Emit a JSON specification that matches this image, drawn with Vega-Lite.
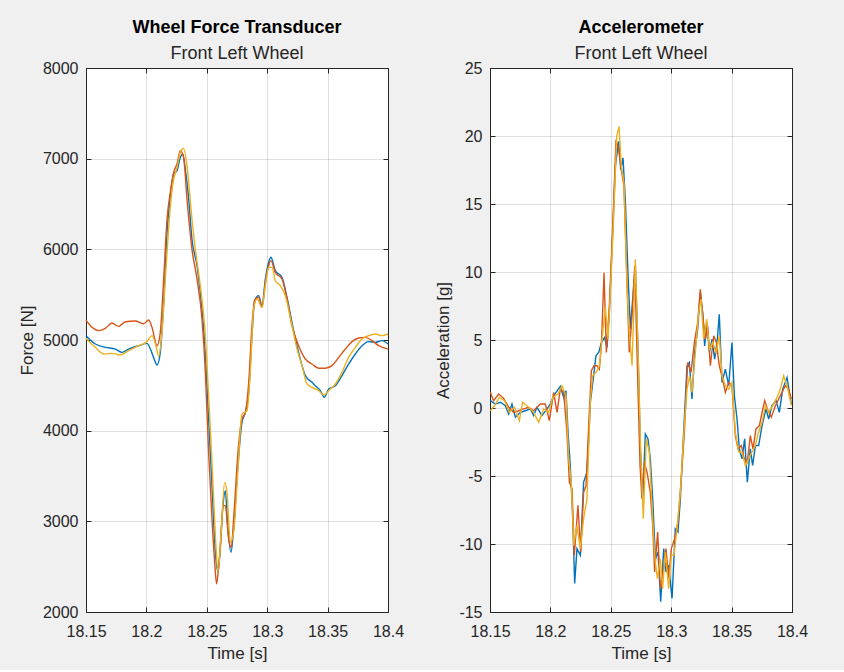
{
  "$schema": "https://vega.github.io/schema/vega-lite/v6.json",
  "background": "#f0f0f0",
  "padding": {"left": 17, "top": 18, "right": 40, "bottom": 8},
  "spacing": 102,
  "bounds": "flush",
  "config": {
    "font": "Liberation Sans",
    "locale": {"number": {"decimal": ".", "thousands": "", "grouping": [3], "currency": ["$", ""], "minus": "-"}},
    "view": {"stroke": "#262626", "strokeWidth": 1, "fill": "white"},
    "axis": {
      "labelFont": "Liberation Sans", "labelFontSize": 16, "labelColor": "#262626",
      "titleFont": "Liberation Sans", "titleFontSize": 17, "titleFontWeight": "normal", "titleColor": "#262626",
      "domainColor": "#262626", "tickColor": "#262626", "tickSize": -5, "tickWidth": 1,
      "gridColor": "#262626", "gridOpacity": 0.15, "labelFlush": false, "labelOverlap": false, "titlePadding": 6
    },
    "axisX": {"labelPadding": 16},
    "axisY": {"labelPadding": 13},
    "title": {"font": "Liberation Sans", "fontSize": 18, "fontWeight": "bold", "color": "#000000", "subtitleFont": "Liberation Sans", "subtitleFontSize": 18, "subtitleColor": "#262626", "subtitlePadding": 8, "offset": -2.5, "anchor": "middle"}
  },
  "datasets": {
    "force": [
      {"s":"1","t":18.15,"v":5048},{"s":"1","t":18.1577,"v":4956},{"s":"1","t":18.166,"v":4919},{"s":"1","t":18.1743,"v":4900},{"s":"1","t":18.1798,"v":4864},{"s":"1","t":18.1853,"v":4900},{"s":"1","t":18.1936,"v":4937},{"s":"1","t":18.2005,"v":4963},{"s":"1","t":18.2033,"v":4900},{"s":"1","t":18.2066,"v":4783},{"s":"1","t":18.2088,"v":4724},{"s":"1","t":18.2115,"v":4864},{"s":"1","t":18.2143,"v":5415},{"s":"1","t":18.2171,"v":6187},{"s":"1","t":18.2198,"v":6592},{"s":"1","t":18.2226,"v":6831},{"s":"1","t":18.2253,"v":6867},{"s":"1","t":18.2281,"v":7015},{"s":"1","t":18.23,"v":7051},{"s":"1","t":18.2322,"v":6886},{"s":"1","t":18.235,"v":6555},{"s":"1","t":18.2377,"v":6114},{"s":"1","t":18.2419,"v":5820},{"s":"1","t":18.246,"v":5342},{"s":"1","t":18.2488,"v":4864},{"s":"1","t":18.2515,"v":4129},{"s":"1","t":18.2543,"v":3394},{"s":"1","t":18.2571,"v":2658},{"s":"1","t":18.2593,"v":2438},{"s":"1","t":18.2612,"v":2732},{"s":"1","t":18.2634,"v":3173},{"s":"1","t":18.2653,"v":3338},{"s":"1","t":18.2675,"v":2916},{"s":"1","t":18.27,"v":2658},{"s":"1","t":18.2722,"v":2916},{"s":"1","t":18.2758,"v":3614},{"s":"1","t":18.2791,"v":4092},{"s":"1","t":18.2819,"v":4202},{"s":"1","t":18.2847,"v":4423},{"s":"1","t":18.2874,"v":5048},{"s":"1","t":18.2896,"v":5434},{"s":"1","t":18.2929,"v":5489},{"s":"1","t":18.2957,"v":5379},{"s":"1","t":18.2985,"v":5673},{"s":"1","t":18.3012,"v":5857},{"s":"1","t":18.3031,"v":5912},{"s":"1","t":18.3067,"v":5765},{"s":"1","t":18.3122,"v":5691},{"s":"1","t":18.3164,"v":5470},{"s":"1","t":18.3219,"v":5103},{"s":"1","t":18.326,"v":4864},{"s":"1","t":18.3316,"v":4607},{"s":"1","t":18.3371,"v":4533},{"s":"1","t":18.3398,"v":4496},{"s":"1","t":18.344,"v":4441},{"s":"1","t":18.3473,"v":4368},{"s":"1","t":18.3509,"v":4460},{"s":"1","t":18.3564,"v":4496},{"s":"1","t":18.3619,"v":4607},{"s":"1","t":18.3674,"v":4735},{"s":"1","t":18.373,"v":4846},{"s":"1","t":18.3785,"v":4937},{"s":"1","t":18.384,"v":4982},{"s":"1","t":18.3895,"v":4974},{"s":"1","t":18.395,"v":4993},{"s":"1","t":18.4,"v":4956},
      {"s":"2","t":18.15,"v":5220},{"s":"2","t":18.155,"v":5140},{"s":"2","t":18.1605,"v":5103},{"s":"2","t":18.166,"v":5129},{"s":"2","t":18.1715,"v":5187},{"s":"2","t":18.177,"v":5150},{"s":"2","t":18.1826,"v":5202},{"s":"2","t":18.1908,"v":5210},{"s":"2","t":18.1977,"v":5180},{"s":"2","t":18.2019,"v":5220},{"s":"2","t":18.2046,"v":5140},{"s":"2","t":18.2088,"v":4937},{"s":"2","t":18.2115,"v":5085},{"s":"2","t":18.2143,"v":5673},{"s":"2","t":18.2171,"v":6334},{"s":"2","t":18.2198,"v":6628},{"s":"2","t":18.2226,"v":6850},{"s":"2","t":18.2253,"v":6941},{"s":"2","t":18.2281,"v":7088},{"s":"2","t":18.2308,"v":7015},{"s":"2","t":18.2336,"v":6555},{"s":"2","t":18.2377,"v":6003},{"s":"2","t":18.2419,"v":5673},{"s":"2","t":18.246,"v":5232},{"s":"2","t":18.2488,"v":4643},{"s":"2","t":18.2515,"v":3761},{"s":"2","t":18.2543,"v":3026},{"s":"2","t":18.2565,"v":2550},{"s":"2","t":18.2581,"v":2310},{"s":"2","t":18.2598,"v":2500},{"s":"2","t":18.2612,"v":2700},{"s":"2","t":18.2634,"v":3173},{"s":"2","t":18.2653,"v":3173},{"s":"2","t":18.2681,"v":2805},{"s":"2","t":18.2703,"v":2713},{"s":"2","t":18.2722,"v":3026},{"s":"2","t":18.2758,"v":3761},{"s":"2","t":18.2791,"v":4129},{"s":"2","t":18.2819,"v":4202},{"s":"2","t":18.2847,"v":4533},{"s":"2","t":18.2874,"v":5158},{"s":"2","t":18.2896,"v":5434},{"s":"2","t":18.2929,"v":5471},{"s":"2","t":18.2957,"v":5360},{"s":"2","t":18.2985,"v":5636},{"s":"2","t":18.3012,"v":5820},{"s":"2","t":18.3031,"v":5875},{"s":"2","t":18.3067,"v":5746},{"s":"2","t":18.3122,"v":5673},{"s":"2","t":18.3164,"v":5452},{"s":"2","t":18.3205,"v":5158},{"s":"2","t":18.326,"v":4937},{"s":"2","t":18.3316,"v":4790},{"s":"2","t":18.3371,"v":4735},{"s":"2","t":18.3426,"v":4688},{"s":"2","t":18.3481,"v":4688},{"s":"2","t":18.3536,"v":4717},{"s":"2","t":18.3592,"v":4809},{"s":"2","t":18.3647,"v":4900},{"s":"2","t":18.3702,"v":4982},{"s":"2","t":18.3757,"v":5022},{"s":"2","t":18.3812,"v":5029},{"s":"2","t":18.3868,"v":4993},{"s":"2","t":18.3923,"v":4937},{"s":"2","t":18.4,"v":4900},
      {"s":"3","t":18.15,"v":5018},{"s":"3","t":18.1577,"v":4919},{"s":"3","t":18.1646,"v":4846},{"s":"3","t":18.1715,"v":4853},{"s":"3","t":18.1784,"v":4835},{"s":"3","t":18.1853,"v":4882},{"s":"3","t":18.1936,"v":4937},{"s":"3","t":18.2005,"v":4982},{"s":"3","t":18.2046,"v":5048},{"s":"3","t":18.2079,"v":4937},{"s":"3","t":18.2102,"v":4820},{"s":"3","t":18.2129,"v":5085},{"s":"3","t":18.2162,"v":5783},{"s":"3","t":18.219,"v":6334},{"s":"3","t":18.2217,"v":6702},{"s":"3","t":18.2253,"v":6904},{"s":"3","t":18.2281,"v":7070},{"s":"3","t":18.2308,"v":7114},{"s":"3","t":18.2336,"v":6923},{"s":"3","t":18.2377,"v":6334},{"s":"3","t":18.2405,"v":6003},{"s":"3","t":18.2446,"v":5599},{"s":"3","t":18.2482,"v":5158},{"s":"3","t":18.2515,"v":4386},{"s":"3","t":18.2543,"v":3651},{"s":"3","t":18.2571,"v":2842},{"s":"3","t":18.2593,"v":2438},{"s":"3","t":18.262,"v":2916},{"s":"3","t":18.2648,"v":3430},{"s":"3","t":18.2667,"v":3320},{"s":"3","t":18.2695,"v":2769},{"s":"3","t":18.2722,"v":2879},{"s":"3","t":18.2758,"v":3577},{"s":"3","t":18.2791,"v":4184},{"s":"3","t":18.2833,"v":4220},{"s":"3","t":18.286,"v":4643},{"s":"3","t":18.2888,"v":5342},{"s":"3","t":18.2916,"v":5452},{"s":"3","t":18.2957,"v":5360},{"s":"3","t":18.2985,"v":5599},{"s":"3","t":18.3012,"v":5801},{"s":"3","t":18.304,"v":5801},{"s":"3","t":18.3067,"v":5654},{"s":"3","t":18.3109,"v":5599},{"s":"3","t":18.315,"v":5489},{"s":"3","t":18.3205,"v":5158},{"s":"3","t":18.3247,"v":4900},{"s":"3","t":18.3288,"v":4717},{"s":"3","t":18.333,"v":4515},{"s":"3","t":18.3371,"v":4478},{"s":"3","t":18.3426,"v":4441},{"s":"3","t":18.3467,"v":4393},{"s":"3","t":18.3509,"v":4441},{"s":"3","t":18.3564,"v":4515},{"s":"3","t":18.3619,"v":4643},{"s":"3","t":18.3674,"v":4809},{"s":"3","t":18.373,"v":4919},{"s":"3","t":18.3785,"v":5011},{"s":"3","t":18.384,"v":5048},{"s":"3","t":18.3895,"v":5066},{"s":"3","t":18.395,"v":5048},{"s":"3","t":18.4,"v":5066}
    ],
    "accel": [
      {"s":"1","t":18.1503,"v":0.54},{"s":"1","t":18.1544,"v":0.29},{"s":"1","t":18.1586,"v":0.42},{"s":"1","t":18.1627,"v":0.17},{"s":"1","t":18.1655,"v":-0.44},{"s":"1","t":18.1682,"v":0.29},{"s":"1","t":18.171,"v":-0.68},{"s":"1","t":18.1751,"v":-0.32},{"s":"1","t":18.1792,"v":-0.2},{"s":"1","t":18.1834,"v":-0.07},{"s":"1","t":18.1861,"v":-0.56},{"s":"1","t":18.1889,"v":0.05},{"s":"1","t":18.193,"v":-0.56},{"s":"1","t":18.1972,"v":-0.07},{"s":"1","t":18.1999,"v":0.29},{"s":"1","t":18.2027,"v":0.9},{"s":"1","t":18.2082,"v":1.59},{"s":"1","t":18.211,"v":0.78},{"s":"1","t":18.2129,"v":1.27},{"s":"1","t":18.2146,"v":-1.78},{"s":"1","t":18.2165,"v":-4.35},{"s":"1","t":18.2184,"v":-7.9},{"s":"1","t":18.2201,"v":-12.91},{"s":"1","t":18.222,"v":-10.34},{"s":"1","t":18.2248,"v":-10.83},{"s":"1","t":18.2275,"v":-5.45},{"s":"1","t":18.2303,"v":-4.72},{"s":"1","t":18.2331,"v":0.42},{"s":"1","t":18.2358,"v":2.37},{"s":"1","t":18.2377,"v":3.84},{"s":"1","t":18.24,"v":4.08},{"s":"1","t":18.2422,"v":4.82},{"s":"1","t":18.2449,"v":5.18},{"s":"1","t":18.2469,"v":4.45},{"s":"1","t":18.2488,"v":7.02},{"s":"1","t":18.251,"v":11.66},{"s":"1","t":18.2538,"v":17.78},{"s":"1","t":18.2565,"v":19.61},{"s":"1","t":18.2582,"v":17.53},{"s":"1","t":18.2601,"v":18.39},{"s":"1","t":18.262,"v":15.33},{"s":"1","t":18.2642,"v":9.95},{"s":"1","t":18.2662,"v":5.79},{"s":"1","t":18.2681,"v":8.0},{"s":"1","t":18.2703,"v":10.44},{"s":"1","t":18.2725,"v":4.33},{"s":"1","t":18.2745,"v":-3.01},{"s":"1","t":18.2764,"v":-6.68},{"s":"1","t":18.2786,"v":-1.91},{"s":"1","t":18.2808,"v":-2.27},{"s":"1","t":18.2827,"v":-3.74},{"s":"1","t":18.2847,"v":-6.68},{"s":"1","t":18.2869,"v":-11.08},{"s":"1","t":18.2891,"v":-10.59},{"s":"1","t":18.2913,"v":-14.25},{"s":"1","t":18.2938,"v":-10.34},{"s":"1","t":18.2957,"v":-12.05},{"s":"1","t":18.2979,"v":-11.56},{"s":"1","t":18.3007,"v":-14.01},{"s":"1","t":18.3034,"v":-8.88},{"s":"1","t":18.3056,"v":-9.12},{"s":"1","t":18.3076,"v":-6.68},{"s":"1","t":18.3103,"v":-1.78},{"s":"1","t":18.3131,"v":3.11},{"s":"1","t":18.315,"v":3.35},{"s":"1","t":18.3172,"v":0.66},{"s":"1","t":18.3194,"v":4.08},{"s":"1","t":18.3219,"v":5.79},{"s":"1","t":18.3241,"v":8.48},{"s":"1","t":18.3261,"v":7.02},{"s":"1","t":18.3277,"v":4.57},{"s":"1","t":18.3296,"v":6.28},{"s":"1","t":18.3316,"v":4.08},{"s":"1","t":18.3338,"v":5.06},{"s":"1","t":18.336,"v":3.59},{"s":"1","t":18.3382,"v":5.06},{"s":"1","t":18.3398,"v":6.89},{"s":"1","t":18.3421,"v":1.88},{"s":"1","t":18.3448,"v":2.86},{"s":"1","t":18.3476,"v":1.64},{"s":"1","t":18.3503,"v":4.82},{"s":"1","t":18.3523,"v":0.9},{"s":"1","t":18.3545,"v":-0.81},{"s":"1","t":18.3564,"v":-3.01},{"s":"1","t":18.3586,"v":-3.74},{"s":"1","t":18.3608,"v":-2.27},{"s":"1","t":18.363,"v":-5.45},{"s":"1","t":18.3655,"v":-3.01},{"s":"1","t":18.3674,"v":-4.23},{"s":"1","t":18.3697,"v":-2.76},{"s":"1","t":18.3724,"v":-2.76},{"s":"1","t":18.3752,"v":-1.3},{"s":"1","t":18.3785,"v":-0.07},{"s":"1","t":18.3807,"v":-0.81},{"s":"1","t":18.3834,"v":0.17},{"s":"1","t":18.3868,"v":0.54},{"s":"1","t":18.3895,"v":-0.32},{"s":"1","t":18.3923,"v":1.39},{"s":"1","t":18.3959,"v":2.25},{"s":"1","t":18.3978,"v":1.15},{"s":"1","t":18.3995,"v":0.29},
      {"s":"2","t":18.1503,"v":1.15},{"s":"2","t":18.153,"v":0.54},{"s":"2","t":18.1572,"v":1.03},{"s":"2","t":18.1613,"v":0.71},{"s":"2","t":18.1655,"v":0.05},{"s":"2","t":18.1696,"v":-0.32},{"s":"2","t":18.1737,"v":-0.2},{"s":"2","t":18.1779,"v":-0.07},{"s":"2","t":18.182,"v":0.05},{"s":"2","t":18.1861,"v":-0.2},{"s":"2","t":18.1917,"v":0.29},{"s":"2","t":18.1958,"v":0.29},{"s":"2","t":18.1991,"v":-0.93},{"s":"2","t":18.2027,"v":1.15},{"s":"2","t":18.2055,"v":-0.32},{"s":"2","t":18.2082,"v":1.39},{"s":"2","t":18.211,"v":1.15},{"s":"2","t":18.2137,"v":-1.78},{"s":"2","t":18.2157,"v":-5.45},{"s":"2","t":18.2179,"v":-5.94},{"s":"2","t":18.2198,"v":-10.83},{"s":"2","t":18.2228,"v":-7.16},{"s":"2","t":18.2251,"v":-10.59},{"s":"2","t":18.2275,"v":-6.19},{"s":"2","t":18.2295,"v":-5.7},{"s":"2","t":18.2317,"v":-1.3},{"s":"2","t":18.2339,"v":2.74},{"s":"2","t":18.2361,"v":3.11},{"s":"2","t":18.2386,"v":3.11},{"s":"2","t":18.2405,"v":2.86},{"s":"2","t":18.2422,"v":4.57},{"s":"2","t":18.2444,"v":9.95},{"s":"2","t":18.2463,"v":4.08},{"s":"2","t":18.2488,"v":7.51},{"s":"2","t":18.2516,"v":13.37},{"s":"2","t":18.2543,"v":19.73},{"s":"2","t":18.2565,"v":19.0},{"s":"2","t":18.2587,"v":17.53},{"s":"2","t":18.2609,"v":16.31},{"s":"2","t":18.2634,"v":9.22},{"s":"2","t":18.2653,"v":4.08},{"s":"2","t":18.2676,"v":6.77},{"s":"2","t":18.2698,"v":10.44},{"s":"2","t":18.272,"v":3.11},{"s":"2","t":18.2742,"v":-4.23},{"s":"2","t":18.2758,"v":-6.68},{"s":"2","t":18.2778,"v":-3.99},{"s":"2","t":18.28,"v":-4.72},{"s":"2","t":18.2827,"v":-6.19},{"s":"2","t":18.2847,"v":-8.63},{"s":"2","t":18.2863,"v":-12.05},{"s":"2","t":18.2888,"v":-9.12},{"s":"2","t":18.291,"v":-13.28},{"s":"2","t":18.2932,"v":-12.05},{"s":"2","t":18.2957,"v":-10.34},{"s":"2","t":18.2979,"v":-12.54},{"s":"2","t":18.3001,"v":-10.34},{"s":"2","t":18.3029,"v":-9.61},{"s":"2","t":18.3056,"v":-8.39},{"s":"2","t":18.3081,"v":-5.45},{"s":"2","t":18.3109,"v":-1.78},{"s":"2","t":18.3136,"v":3.35},{"s":"2","t":18.3164,"v":2.62},{"s":"2","t":18.3192,"v":4.82},{"s":"2","t":18.3219,"v":6.28},{"s":"2","t":18.3241,"v":8.73},{"s":"2","t":18.3261,"v":6.77},{"s":"2","t":18.3283,"v":5.06},{"s":"2","t":18.3302,"v":6.04},{"s":"2","t":18.3324,"v":3.11},{"s":"2","t":18.3352,"v":5.31},{"s":"2","t":18.3374,"v":4.82},{"s":"2","t":18.3398,"v":3.11},{"s":"2","t":18.3426,"v":2.13},{"s":"2","t":18.3448,"v":1.15},{"s":"2","t":18.3476,"v":1.88},{"s":"2","t":18.3503,"v":1.64},{"s":"2","t":18.3531,"v":-2.03},{"s":"2","t":18.3553,"v":-3.01},{"s":"2","t":18.3581,"v":-2.76},{"s":"2","t":18.3605,"v":-3.74},{"s":"2","t":18.363,"v":-3.99},{"s":"2","t":18.3655,"v":-2.03},{"s":"2","t":18.3677,"v":-3.01},{"s":"2","t":18.3702,"v":-1.54},{"s":"2","t":18.373,"v":-1.3},{"s":"2","t":18.3752,"v":-0.32},{"s":"2","t":18.3774,"v":0.54},{"s":"2","t":18.3796,"v":-0.07},{"s":"2","t":18.3829,"v":-0.68},{"s":"2","t":18.3862,"v":0.17},{"s":"2","t":18.389,"v":0.66},{"s":"2","t":18.3917,"v":1.15},{"s":"2","t":18.3945,"v":1.64},{"s":"2","t":18.3972,"v":1.39},{"s":"2","t":18.3995,"v":0.66},
      {"s":"3","t":18.1503,"v":-0.2},{"s":"3","t":18.1539,"v":0.17},{"s":"3","t":18.1577,"v":0.78},{"s":"3","t":18.1621,"v":0.54},{"s":"3","t":18.166,"v":-0.32},{"s":"3","t":18.1704,"v":0.05},{"s":"3","t":18.1743,"v":-0.93},{"s":"3","t":18.177,"v":0.42},{"s":"3","t":18.182,"v":0.05},{"s":"3","t":18.1861,"v":-0.32},{"s":"3","t":18.1903,"v":-1.05},{"s":"3","t":18.1944,"v":-0.07},{"s":"3","t":18.1986,"v":-0.32},{"s":"3","t":18.2019,"v":0.78},{"s":"3","t":18.2063,"v":1.03},{"s":"3","t":18.2096,"v":1.64},{"s":"3","t":18.2129,"v":0.9},{"s":"3","t":18.2151,"v":-3.74},{"s":"3","t":18.2173,"v":-5.45},{"s":"3","t":18.2193,"v":-10.1},{"s":"3","t":18.222,"v":-8.63},{"s":"3","t":18.2248,"v":-10.34},{"s":"3","t":18.2275,"v":-8.14},{"s":"3","t":18.2303,"v":-6.68},{"s":"3","t":18.2331,"v":0.66},{"s":"3","t":18.235,"v":2.37},{"s":"3","t":18.2378,"v":2.62},{"s":"3","t":18.2405,"v":3.11},{"s":"3","t":18.2433,"v":5.55},{"s":"3","t":18.2455,"v":7.38},{"s":"3","t":18.2477,"v":5.06},{"s":"3","t":18.2499,"v":8.97},{"s":"3","t":18.2527,"v":14.84},{"s":"3","t":18.2549,"v":19.98},{"s":"3","t":18.2568,"v":20.71},{"s":"3","t":18.2587,"v":17.78},{"s":"3","t":18.2609,"v":16.55},{"s":"3","t":18.2634,"v":8.97},{"s":"3","t":18.2653,"v":5.55},{"s":"3","t":18.2676,"v":3.11},{"s":"3","t":18.2703,"v":10.93},{"s":"3","t":18.2725,"v":4.33},{"s":"3","t":18.2747,"v":-3.01},{"s":"3","t":18.2769,"v":-8.14},{"s":"3","t":18.2794,"v":-2.27},{"s":"3","t":18.2819,"v":-3.25},{"s":"3","t":18.2841,"v":-7.16},{"s":"3","t":18.2863,"v":-10.83},{"s":"3","t":18.2885,"v":-12.54},{"s":"3","t":18.291,"v":-11.08},{"s":"3","t":18.2929,"v":-13.28},{"s":"3","t":18.2951,"v":-10.59},{"s":"3","t":18.2979,"v":-13.28},{"s":"3","t":18.3001,"v":-10.83},{"s":"3","t":18.3023,"v":-10.83},{"s":"3","t":18.3045,"v":-9.12},{"s":"3","t":18.3076,"v":-6.19},{"s":"3","t":18.3103,"v":-2.03},{"s":"3","t":18.3131,"v":1.39},{"s":"3","t":18.3153,"v":2.37},{"s":"3","t":18.3172,"v":1.15},{"s":"3","t":18.32,"v":4.08},{"s":"3","t":18.3227,"v":7.02},{"s":"3","t":18.3247,"v":8.0},{"s":"3","t":18.3269,"v":5.06},{"s":"3","t":18.3294,"v":6.53},{"s":"3","t":18.3316,"v":4.33},{"s":"3","t":18.3343,"v":4.82},{"s":"3","t":18.3371,"v":4.08},{"s":"3","t":18.3398,"v":5.31},{"s":"3","t":18.3421,"v":2.37},{"s":"3","t":18.3448,"v":1.64},{"s":"3","t":18.3476,"v":1.39},{"s":"3","t":18.3503,"v":1.88},{"s":"3","t":18.3531,"v":-1.78},{"s":"3","t":18.3559,"v":-3.25},{"s":"3","t":18.3586,"v":-3.25},{"s":"3","t":18.3614,"v":-4.23},{"s":"3","t":18.3641,"v":-3.74},{"s":"3","t":18.3668,"v":-3.25},{"s":"3","t":18.3696,"v":-2.76},{"s":"3","t":18.3724,"v":-1.78},{"s":"3","t":18.3752,"v":-1.05},{"s":"3","t":18.3779,"v":0.17},{"s":"3","t":18.3807,"v":-0.32},{"s":"3","t":18.384,"v":0.17},{"s":"3","t":18.3876,"v":0.78},{"s":"3","t":18.3903,"v":1.39},{"s":"3","t":18.3931,"v":2.37},{"s":"3","t":18.3959,"v":1.64},{"s":"3","t":18.3995,"v":0.17}
    ]
  },
  "hconcat": [
    {
      "width": 302, "height": 544,
      "title": {"text": "Wheel Force Transducer", "subtitle": "Front Left Wheel"},
      "data": {"name": "force"},
      "layer": [
        {
          "mark": {"type": "line", "strokeWidth": 1.4, "interpolate": "monotone"},
          "encoding": {
            "x": {"field": "t", "type": "quantitative", "scale": {"domain": [18.15, 18.4], "nice": false, "zero": false},
                  "axis": {"values": [18.15, 18.2, 18.25, 18.3, 18.35, 18.4], "format": "~g", "title": "Time [s]"}},
            "y": {"field": "v", "type": "quantitative", "scale": {"domain": [2000, 8000], "nice": false, "zero": false},
                  "axis": {"values": [2000, 3000, 4000, 5000, 6000, 7000, 8000], "format": "d", "title": "Force [N]"}},
            "color": {"field": "s", "type": "nominal", "scale": {"domain": ["1", "2", "3"], "range": ["#0072BD", "#D95319", "#EDB120"]}, "legend": null}
          }
        },
        {
          "mark": {"type": "point", "opacity": 0},
          "encoding": {
            "x": {"field": "t", "type": "quantitative", "axis": {"orient": "top", "values": [18.15, 18.2, 18.25, 18.3, 18.35, 18.4], "labels": false, "title": null, "grid": false, "domain": false}},
            "y": {"field": "v", "type": "quantitative", "axis": {"orient": "right", "values": [2000, 3000, 4000, 5000, 6000, 7000, 8000], "labels": false, "title": null, "grid": false, "domain": false}}
          }
        }
      ],
      "resolve": {"axis": {"x": "independent", "y": "independent"}}
    },
    {
      "width": 302, "height": 544,
      "title": {"text": "Accelerometer", "subtitle": "Front Left Wheel"},
      "data": {"name": "accel"},
      "layer": [
        {
          "mark": {"type": "line", "strokeWidth": 1.4},
          "encoding": {
            "x": {"field": "t", "type": "quantitative", "scale": {"domain": [18.15, 18.4], "nice": false, "zero": false},
                  "axis": {"values": [18.15, 18.2, 18.25, 18.3, 18.35, 18.4], "format": "~g", "title": "Time [s]"}},
            "y": {"field": "v", "type": "quantitative", "scale": {"domain": [-15, 25], "nice": false, "zero": false},
                  "axis": {"values": [-15, -10, -5, 0, 5, 10, 15, 20, 25], "format": "d", "title": "Acceleration [g]"}},
            "color": {"field": "s", "type": "nominal", "scale": {"domain": ["1", "2", "3"], "range": ["#0072BD", "#D95319", "#EDB120"]}, "legend": null}
          }
        },
        {
          "mark": {"type": "point", "opacity": 0},
          "encoding": {
            "x": {"field": "t", "type": "quantitative", "axis": {"orient": "top", "values": [18.15, 18.2, 18.25, 18.3, 18.35, 18.4], "labels": false, "title": null, "grid": false, "domain": false}},
            "y": {"field": "v", "type": "quantitative", "axis": {"orient": "right", "values": [-15, -10, -5, 0, 5, 10, 15, 20, 25], "labels": false, "title": null, "grid": false, "domain": false}}
          }
        }
      ],
      "resolve": {"axis": {"x": "independent", "y": "independent"}}
    }
  ]
}
